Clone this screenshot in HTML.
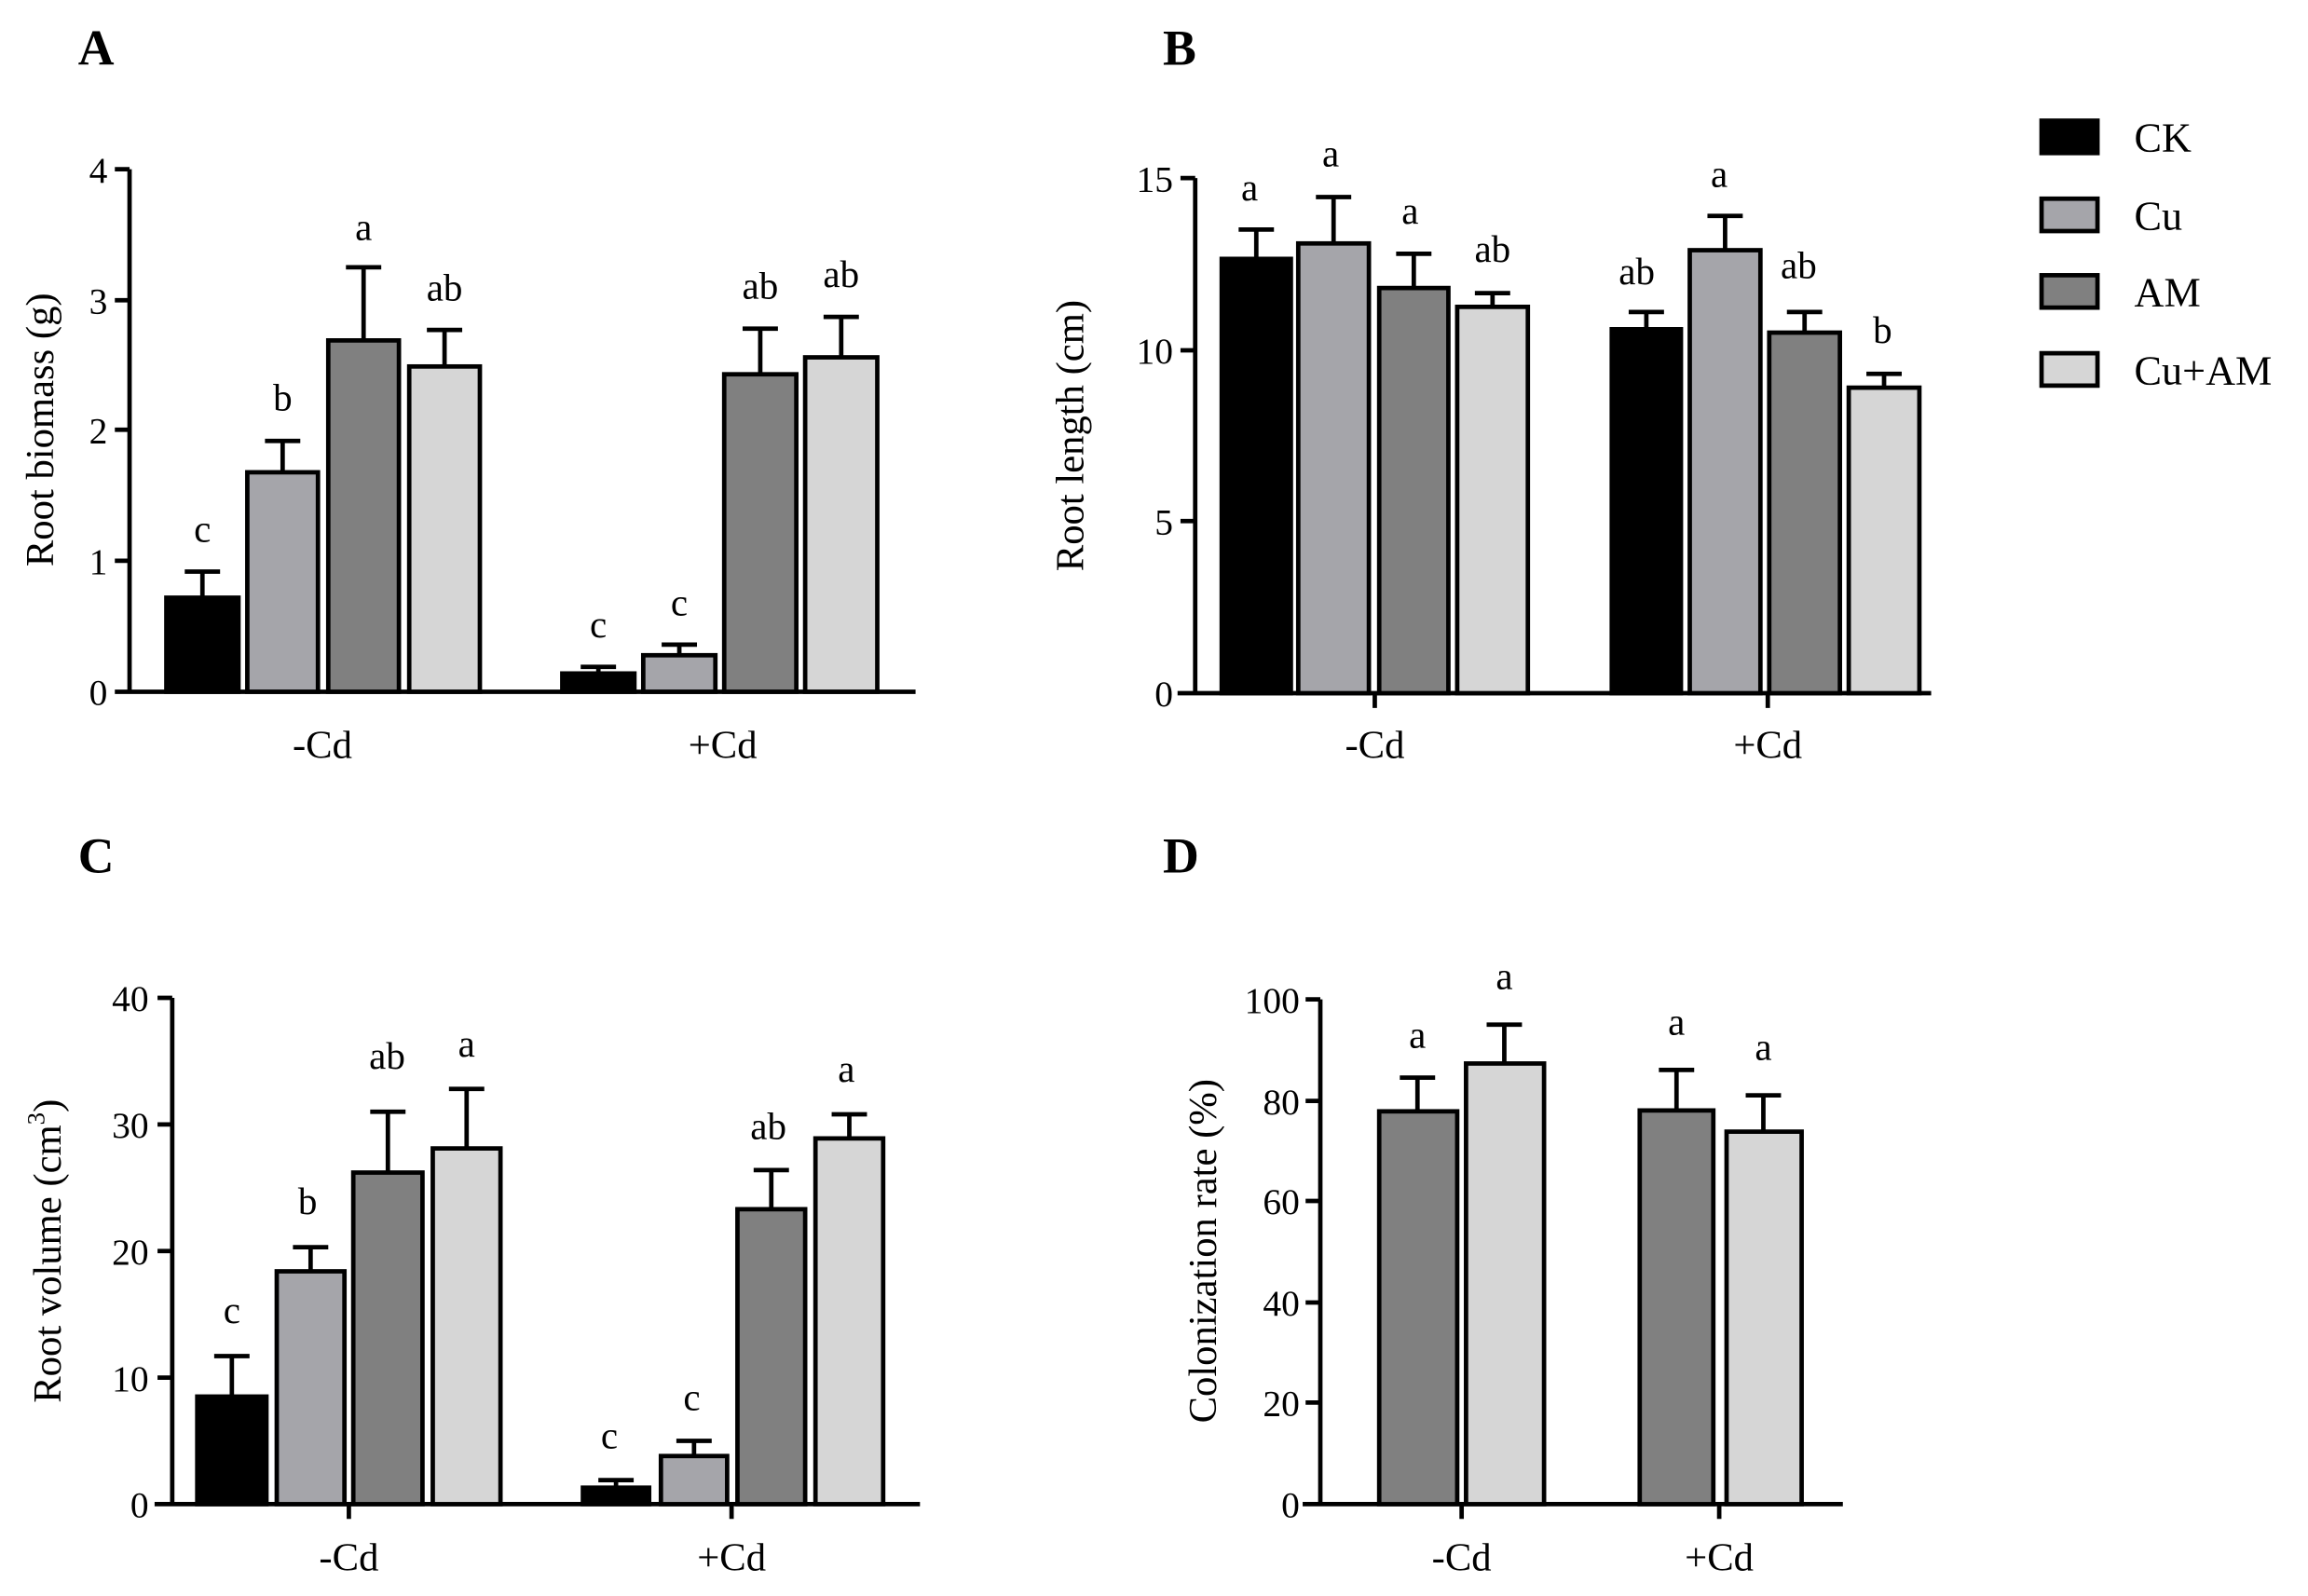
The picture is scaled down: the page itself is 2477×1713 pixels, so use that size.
<!DOCTYPE html>
<html><head><meta charset="utf-8"><style>
html,body{margin:0;padding:0;background:#fff;}
svg{display:block;font-family:"Liberation Serif",serif;}
.ax{stroke:#000;stroke-width:3;fill:none;}
.b{stroke:#000;stroke-width:3;}
.e{stroke:#000;stroke-width:3;fill:none;}
.t{font-size:25px;text-anchor:end;}
.l{font-size:26px;text-anchor:middle;}
.g{font-size:27px;text-anchor:middle;}
.p{font-size:34px;font-weight:bold;}
.k0{fill:#000}.k1{fill:#a5a5aa}.k2{fill:#808080}.k3{fill:#d6d6d6}
</style></head><body>
<svg width="2477" height="1713" viewBox="0 0 1568 1084.4" xmlns="http://www.w3.org/2000/svg">
<rect width="1568" height="1085" fill="#fff"/>
<!-- Panel A -->
<text class="p" x="53" y="44">A</text>
<path class="ax" d="M88,115 V470 M78,470 H622 M78,115 H88 M78,204 H88 M78,292 H88 M78,381 H88"/>
<text class="t" x="73" y="124">4</text><text class="t" x="73" y="213">3</text><text class="t" x="73" y="301">2</text><text class="t" x="73" y="390">1</text><text class="t" x="73" y="479">0</text>
<text class="g" transform="translate(36,292) rotate(-90)">Root biomass (g)</text>
<text class="g" x="219" y="515">-Cd</text><text class="g" x="491" y="515">+Cd</text>
<g>
<path class="e" d="M137.5,406 V388.4 M125.5,388.4 H149.5 M192,321 V299.6 M180,299.6 H204 M247,231 V181.6 M235,181.6 H259 M302,249 V224.2 M290,224.2 H314 M406.5,457 V453.1 M394.5,453.1 H418.5 M461.5,445 V438 M449.5,438 H473.5 M516.5,254 V223.3 M504.5,223.3 H528.5 M571.5,243 V215.3 M559.5,215.3 H583.5"/>
<rect class="b k0" x="113" y="406.1" width="49" height="63.9"/>
<rect class="b k1" x="168" y="320.9" width="48" height="149.1"/>
<rect class="b k2" x="223" y="231.3" width="48" height="238.7"/>
<rect class="b k3" x="278" y="249" width="48" height="221"/>
<rect class="b k0" x="382" y="457.6" width="49" height="12.4"/>
<rect class="b k1" x="437" y="445.2" width="49" height="24.8"/>
<rect class="b k2" x="492" y="254.3" width="49" height="215.7"/>
<rect class="b k3" x="547" y="242.8" width="49" height="227.2"/>
<text class="l" x="137.5" y="368">c</text><text class="l" x="192" y="279">b</text><text class="l" x="247" y="163">a</text><text class="l" x="302" y="204">ab</text>
<text class="l" x="406.5" y="433">c</text><text class="l" x="461.5" y="418">c</text><text class="l" x="516.5" y="203">ab</text><text class="l" x="571.5" y="195">ab</text>
</g>
<!-- Panel B -->
<text class="p" x="790" y="44">B</text>
<path class="ax" d="M812,121 V471 M800,471 H1312 M802,121 H812 M802,238 H812 M802,354 H812 M934,471 V481 M1201,471 V481"/>
<text class="t" x="797" y="130">15</text><text class="t" x="797" y="247">10</text><text class="t" x="797" y="363">5</text><text class="t" x="797" y="480">0</text>
<text class="g" transform="translate(736,296) rotate(-90)">Root length (cm)</text>
<text class="g" x="934" y="515">-Cd</text><text class="g" x="1201" y="515">+Cd</text>
<path class="e" d="M853.5,176 V156 M841.5,156 H865.5 M906,165 V133.9 M894,133.9 H918 M960.5,196 V172.4 M948.5,172.4 H972.5 M1014,208 V199.2 M1002,199.2 H1026 M1118.5,224 V212 M1106.5,212 H1130.5 M1172,170 V146.7 M1160,146.7 H1184 M1226,226 V212 M1214,212 H1238 M1280,263 V254 M1268,254 H1292"/>
<rect class="b k0" x="830" y="175.9" width="47" height="295.1"/>
<rect class="b k1" x="882" y="165.4" width="48" height="305.6"/>
<rect class="b k2" x="937" y="195.7" width="47" height="275.3"/>
<rect class="b k3" x="990" y="208.5" width="48" height="262.5"/>
<rect class="b k0" x="1095" y="223.7" width="47" height="247.3"/>
<rect class="b k1" x="1148" y="170" width="48" height="301"/>
<rect class="b k2" x="1202" y="226" width="48" height="245"/>
<rect class="b k3" x="1256" y="263.4" width="48" height="207.6"/>
<text class="l" x="849" y="136">a</text><text class="l" x="904" y="113">a</text><text class="l" x="958" y="152">a</text><text class="l" x="1014" y="178">ab</text>
<text class="l" x="1112" y="193">ab</text><text class="l" x="1168" y="127">a</text><text class="l" x="1222" y="189">ab</text><text class="l" x="1279" y="233">b</text>
<!-- Legend -->
<rect class="b k0" x="1387" y="82" width="38" height="22"/><text x="1450" y="103" style="font-size:28px">CK</text>
<rect class="b k1" x="1387" y="135" width="38" height="22"/><text x="1450" y="156" style="font-size:28px">Cu</text>
<rect class="b k2" x="1387" y="187" width="38" height="22"/><text x="1450" y="208" style="font-size:28px">AM</text>
<rect class="b k3" x="1387" y="240" width="38" height="22"/><text x="1450" y="261" style="font-size:28px">Cu+AM</text>
<!-- Panel C -->
<text class="p" x="53" y="593">C</text>
<path class="ax" d="M117,678 V1022 M105,1022 H625 M107,678 H117 M107,764 H117 M107,850 H117 M107,936 H117 M237,1022 V1032 M497,1022 V1032"/>
<text class="t" x="101" y="687">40</text><text class="t" x="101" y="773">30</text><text class="t" x="101" y="859">20</text><text class="t" x="101" y="945">10</text><text class="t" x="101" y="1031">0</text>
<text transform="translate(41,850) rotate(-90)" style="font-size:27px;text-anchor:middle">Root volume (cm<tspan dy="-11" style="font-size:17px">3</tspan><tspan dy="11">)</tspan></text>
<text class="g" x="237" y="1067">-Cd</text><text class="g" x="497" y="1067">+Cd</text>
<path class="e" d="M157.5,949 V921.4 M145.5,921.4 H169.5 M211,864 V847.4 M199,847.4 H223 M263.5,797 V755.4 M251.5,755.4 H275.5 M317,780 V739.9 M305,739.9 H329 M418.5,1011 V1005.7 M406.5,1005.7 H430.5 M471.5,989 V979 M459.5,979 H483.5 M524,822 V795 M512,795 H536 M577,773 V757.1 M565,757.1 H589"/>
<rect class="b k0" x="134" y="948.9" width="47" height="73.1"/>
<rect class="b k1" x="188" y="863.8" width="46" height="158.2"/>
<rect class="b k2" x="240" y="796.7" width="47" height="225.3"/>
<rect class="b k3" x="294" y="780.3" width="46" height="241.7"/>
<rect class="b k0" x="396" y="1010.8" width="45" height="11.2"/>
<rect class="b k1" x="449" y="989.3" width="45" height="32.7"/>
<rect class="b k2" x="501" y="821.6" width="46" height="200.4"/>
<rect class="b k3" x="554" y="773.5" width="46" height="248.5"/>
<text class="l" x="157.5" y="899">c</text><text class="l" x="209" y="825">b</text><text class="l" x="263" y="726">ab</text><text class="l" x="317" y="718">a</text>
<text class="l" x="414" y="984">c</text><text class="l" x="470" y="958">c</text><text class="l" x="522" y="774">ab</text><text class="l" x="575" y="735">a</text>
<!-- Panel D -->
<text class="p" x="790" y="593">D</text>
<path class="ax" d="M897,679 V1022 M885,1022 H1252 M887,679 H897 M887,748 H897 M887,816 H897 M887,885 H897 M887,953 H897 M993,1022 V1032 M1168,1022 V1032"/>
<text class="t" x="883" y="688">100</text><text class="t" x="883" y="757">80</text><text class="t" x="883" y="825">60</text><text class="t" x="883" y="894">40</text><text class="t" x="883" y="962">20</text><text class="t" x="883" y="1031">0</text>
<text class="g" transform="translate(826,850) rotate(-90)">Colonization rate (%)</text>
<text class="g" x="993" y="1067">-Cd</text><text class="g" x="1168" y="1067">+Cd</text>
<path class="e" d="M963,755 V732.2 M951,732.2 H975 M1022,723 V696.2 M1010,696.2 H1034 M1139,755 V727 M1127,727 H1151 M1198,769 V744.2 M1186,744.2 H1210"/>
<rect class="b k2" x="937" y="755.1" width="53" height="266.9"/>
<rect class="b k3" x="996" y="722.6" width="53" height="299.4"/>
<rect class="b k2" x="1114" y="754.5" width="50" height="267.5"/>
<rect class="b k3" x="1173" y="768.9" width="51" height="253.1"/>
<text class="l" x="963" y="712">a</text><text class="l" x="1022" y="672">a</text><text class="l" x="1139" y="703">a</text><text class="l" x="1198" y="720">a</text>
</svg>
</body></html>
